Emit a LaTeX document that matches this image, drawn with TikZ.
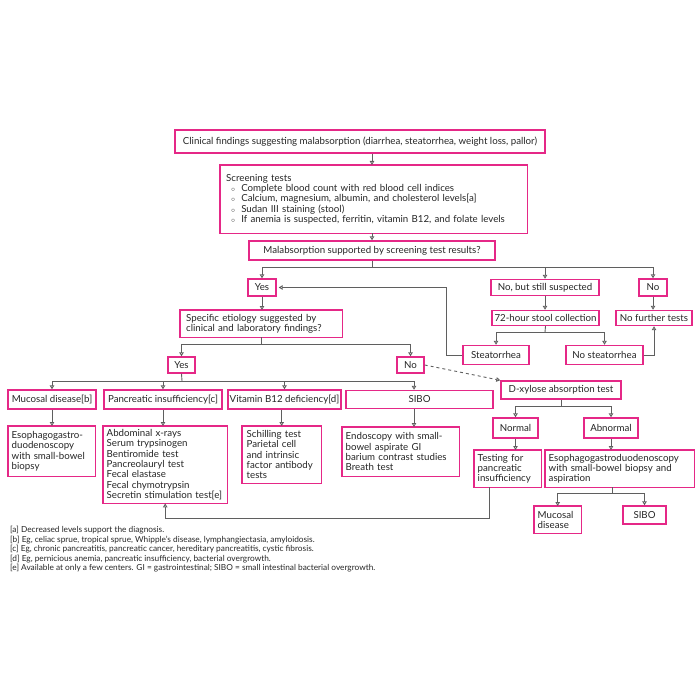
\documentclass[tikz,border=0pt]{standalone}
\usepackage{fontspec}
\setmainfont{Lato}
\usetikzlibrary{arrows.meta,calc}
\definecolor{pk}{RGB}{229,40,135}
\definecolor{ln}{RGB}{95,95,95}
\newcommand{\bul}{\hspace*{5pt}{\scriptsize$\circ$}\hspace{6pt}}
\begin{document}
\begin{tikzpicture}[x=1pt,y=-1pt,
 box/.style={draw=pk,line width=1.4pt,fill=white,inner sep=0pt,font=\fontsize{9.7}{10.3}\selectfont,text=black!85},
 mbox/.style={fill=white,inner xsep=3.5pt,inner ysep=2pt,align=left,anchor=north west,font=\fontsize{9.7}{10.3}\selectfont,text=black!85},
 frame/.style={draw=pk,line width=1.4pt},
 conn/.style={draw=ln,line width=0.9pt},
 arr/.style={conn,-{Triangle[open,length=4pt,width=4.5pt]}},
 darr/.style={conn,dashed,-{Triangle[open,length=4pt,width=4.5pt]}},
 note/.style={font=\fontsize{8.3}{9.5}\selectfont,align=left,anchor=north west,inner sep=0pt,text=black!85}
 ]
\useasboundingbox (0,0) rectangle (700,700);

% boxes
\node[box,minimum width=370pt,minimum height=23pt] (clin) at (360,141.5) {Clinical findings suggesting malabsorption (diarrhea, steatorrhea, weight loss, pallor)};
\node[mbox,minimum height=68pt,inner xsep=6pt,text width=295pt] (screen) at (220,165) {Screening tests\\
\bul Complete blood count with red blood cell indices\\
\bul Calcium, magnesium, albumin, and cholesterol levels{[}a{]}\\
\bul Sudan III staining (stool)\\
\bul If anemia is suspected, ferritin, vitamin B12, and folate levels};
\node[box,minimum width=246pt,minimum height=19pt] (malab) at (372,250.5) {Malabsorption supported by screening test results?};

\node[box,minimum width=28pt,minimum height=17pt] (yes1) at (262,287.5) {Yes};
\node[box,minimum width=108pt,minimum height=16pt] (nobut) at (545,287.5) {No, but still suspected};
\node[box,minimum width=28pt,minimum height=17pt] (no1) at (653,287.5) {No};

\node[mbox,text width=150pt,inner xsep=6pt,minimum height=27pt] (spec) at (180,310) {Specific etiology suggested by\\clinical and laboratory findings?};
\node[box,minimum width=107pt,minimum height=15pt] (stool) at (545.5,318) {72-hour stool collection};
\node[box,minimum width=76pt,minimum height=15pt] (nofur) at (654,318) {No further tests};

\node[box,minimum width=66pt,minimum height=19pt] (steat) at (496,355) {Steatorrhea};
\node[box,minimum width=77pt,minimum height=19pt] (nosteat) at (604.5,355) {No steatorrhea};

\node[box,minimum width=27pt,minimum height=16pt] (yes2) at (181.5,365) {Yes};
\node[box,minimum width=27pt,minimum height=16pt] (no2) at (410.5,365) {No};

\node[box,minimum width=120pt,minimum height=18pt] (dxyl) at (561,390) {D-xylose absorption test};

\node[box,minimum width=88pt,minimum height=19pt] (mucb) at (52,399.5) {Mucosal disease{[}b{]}};
\node[box,minimum width=118pt,minimum height=19pt] (pancc) at (163,399.5) {Pancreatic insufficiency{[}c{]}};
\node[box,minimum width=113pt,minimum height=19pt] (vitd) at (284.5,399.5) {Vitamin B12 deficiency{[}d{]}};
\node[box,minimum width=147pt,minimum height=18pt] (sibo) at (419.5,399.5) {SIBO};

\node[box,minimum width=45pt,minimum height=20pt] (normal) at (515.5,428) {Normal};
\node[box,minimum width=54pt,minimum height=20pt] (abn) at (611,428) {Abnormal};

\node[mbox,text width=80pt,minimum height=50pt] (ego1) at (8,426) {Esophagogastro-\\duodenoscopy\\with small-bowel\\biopsy};
\node[mbox,text width=117pt,minimum height=77pt] (ptests) at (103,426) {Abdominal x-rays\\Serum trypsinogen\\Bentiromide test\\Pancreolauryl test\\Fecal elastase\\Fecal chymotrypsin\\Secretin stimulation test{[}e{]}};
\node[mbox,text width=70pt,inner xsep=4.5pt,minimum height=57pt] (schil) at (242,426) {Schilling test\\Parietal cell\\and intrinsic\\factor antibody\\tests};
\node[mbox,text width=110pt,minimum height=49pt] (endo) at (342,427) {Endoscopy with small-\\bowel aspirate GI\\barium contrast studies\\Breath test};

\node[mbox,text width=60pt,minimum height=37pt] (tpanc) at (474,450) {Testing for\\pancreatic\\insufficiency};
\node[mbox,text width=142pt,minimum height=37pt] (ego2) at (545,450) {Esophagogastroduodenoscopy\\with small-bowel biopsy and\\aspiration};

\node[mbox,text width=40pt,minimum height=27pt] (muc2) at (534,506) {Mucosal\\disease};
\node[box,minimum width=43pt,minimum height=18pt] (sibo2) at (644.5,515) {SIBO};

% frames of the multi-line boxes
\foreach \n in {screen,spec,ego1,ptests,schil,endo,tpanc,ego2,muc2}
  \draw[frame] (\n.south west) rectangle (\n.north east);

\node[note] (notes) at (10,526) {{[}a{]} Decreased levels support the diagnosis.\\
{[}b{]} Eg, celiac sprue, tropical sprue, Whipple's disease, lymphangiectasia, amyloidosis.\\
{[}c{]} Eg, chronic pancreatitis, pancreatic cancer, hereditary pancreatitis, cystic fibrosis.\\
{[}d{]} Eg, pernicious anemia, pancreatic insufficiency, bacterial overgrowth.\\
{[}e{]} Available at only a few centers. GI = gastrointestinal; SIBO = small intestinal bacterial overgrowth.};

% connectors
\draw[arr] (clin.south -| malab) -- (screen.north -| malab);
\draw[arr] (screen.south -| malab) -- (malab.north);

\coordinate (b1) at (372,267);
\draw[conn] (malab.south) -- (b1);
\draw[conn] (yes1 |- b1) -- (no1 |- b1);
\draw[arr] (yes1 |- b1) -- (yes1.north);
\draw[arr] (nobut |- b1) -- (nobut.north);
\draw[arr] (no1 |- b1) -- (no1.north);

\draw[arr] (yes1.south) -- (yes1.south |- spec.north);
\draw[arr] (nobut.south) -- (nobut.south |- stool.north);
\draw[arr] (no1.south) -- (no1.south |- nofur.north);

\coordinate (b2) at (545,332);
\draw[conn] (stool.south) -- (b2);
\draw[conn] (steat |- b2) -- (nosteat |- b2);
\draw[arr] (steat |- b2) -- (steat.north);
\draw[arr] (nosteat |- b2) -- (nosteat.north);
\coordinate (s1) at (446,355);
\draw[arr,shorten >=2pt] (steat.west) -- (s1) |- (yes1.east);
\draw[arr] (nosteat.east) -| (nofur.south);

\coordinate (b3) at (261,344);
\draw[conn] (spec.south -| b3) -- (b3);
\draw[conn] (yes2 |- b3) -- (no2 |- b3);
\draw[arr] (yes2 |- b3) -- (yes2.north);
\draw[arr] (no2 |- b3) -- (no2.north);

\coordinate (b4) at (182,381);
\draw[conn] (yes2.south) -- (b4);
\coordinate (s2) at (414,381);
\draw[conn] (mucb |- b4) -- (s2);
\draw[arr] (mucb |- b4) -- (mucb.north);
\draw[arr] (pancc |- b4) -- (pancc.north);
\draw[arr] (vitd |- b4) -- (vitd.north);
\draw[arr] (s2) -- (s2 |- sibo.north);

\draw[darr] (no2.east) -- (dxyl.north west);

\draw[arr] (mucb.south) -- (mucb.south |- ego1.north);
\draw[arr] (pancc.south) -- (pancc.south |- ptests.north);
\draw[arr] (vitd.south -| schil.north) -- (schil.north);
\draw[arr] (s2 |- sibo.south) -- (s2 |- endo.north);

\coordinate (b5) at (561,406);
\draw[conn] (dxyl.south) -- (b5);
\draw[conn] (normal |- b5) -- (abn |- b5);
\draw[arr] (normal |- b5) -- (normal.north);
\draw[arr] (abn |- b5) -- (abn.north);
\draw[arr] (normal.south) -- (normal.south |- tpanc.north);
\draw[arr] (abn.south) -- (abn.south |- ego2.north);

\coordinate (t1) at (489,518);
\draw[arr] (tpanc.south -| t1) -- (t1) -| (ptests.south);

\coordinate (b6) at (612,493);
\draw[conn] (ego2.south -| b6) -- (b6);
\draw[conn] (muc2 |- b6) -- (sibo2 |- b6);
\draw[arr] (muc2 |- b6) -- (muc2.north);
\draw[arr] (sibo2 |- b6) -- (sibo2.north);
\end{tikzpicture}
\end{document}
